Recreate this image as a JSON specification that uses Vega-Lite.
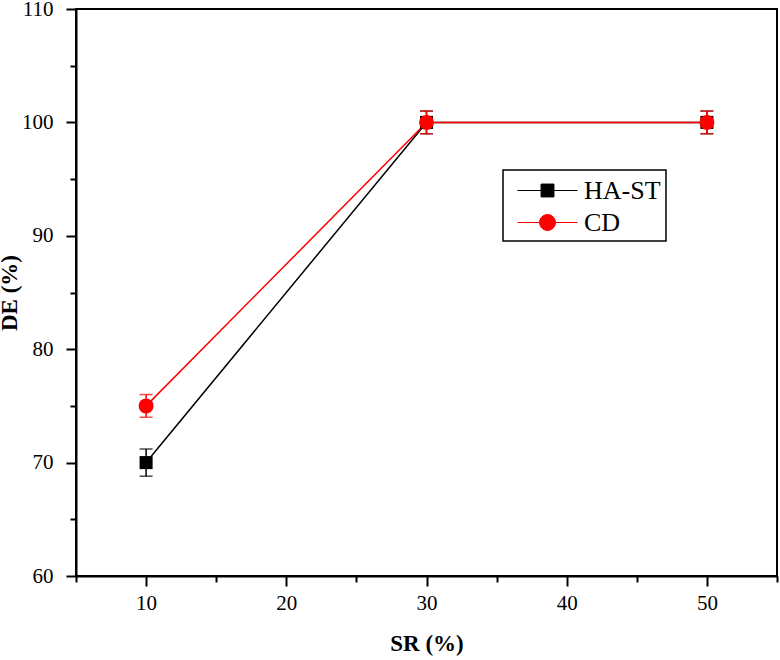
{
  "$schema": "https://vega.github.io/schema/vega-lite/v6.json",
  "autosize": {"type": "none"},
  "width": 701,
  "height": 567,
  "padding": {"left": 76, "top": 9, "right": 3, "bottom": 84},
  "background": "white",
  "config": {
    "view": {"stroke": "black", "strokeWidth": 2},
    "font": "Liberation Serif",
    "axis": {
      "domainColor": "black", "domainWidth": 2, "tickColor": "black", "tickWidth": 2,
      "grid": false, "labelFont": "Liberation Serif", "labelFontSize": 21, "labelColor": "black",
      "titleFont": "Liberation Serif", "titleFontSize": 23, "titleFontWeight": "bold", "titleColor": "black"
    }
  },
  "data": {"values": [
    {"sr": 10, "de": 70, "lo": 68.8, "hi": 71.2, "series": "HA-ST"},
    {"sr": 30, "de": 100, "lo": 99, "hi": 101, "series": "HA-ST"},
    {"sr": 50, "de": 100, "lo": 99, "hi": 101, "series": "HA-ST"},
    {"sr": 10, "de": 75, "lo": 74, "hi": 76, "series": "CD"},
    {"sr": 30, "de": 100, "lo": 99, "hi": 101, "series": "CD"},
    {"sr": 50, "de": 100, "lo": 99, "hi": 101, "series": "CD"}
  ]},
  "encoding": {
    "x": {"field": "sr", "type": "quantitative",
      "scale": {"domain": [5, 55], "nice": false, "zero": false},
      "axis": {"title": "SR (%)", "values": [5, 10, 15, 20, 25, 30, 35, 40, 45, 50, 55],
        "labelExpr": "datum.value % 10 === 0 ? datum.label : ''",
        "tickSize": {"condition": {"test": "datum.value % 10 !== 0", "value": 6}, "value": 10},
        "labelPadding": 6, "titlePadding": 19}},
    "color": {"field": "series", "type": "nominal",
      "scale": {"domain": ["HA-ST", "CD"], "range": ["black", "#ff0000"]},
      "legend": {"title": null, "orient": "none", "legendX": 427, "legendY": 161,
        "strokeColor": "black", "padding": 5, "fillColor": "white",
        "symbolSize": 900, "symbolStrokeWidth": 1, "labelFontSize": 26, "labelFont": "Liberation Serif",
        "labelColor": "black", "labelOffset": 45, "rowPadding": 3, "labelLimit": 300,
        "encode": {
          "legend": {"update": {"strokeWidth": {"value": 1.5}}},
          "symbols": {"update": {
          "shape": {"signal": "datum.value === 'CD' ? 'M-0.4,0H1.07A0.53,0.53 0 1,1 2.13,0H3.6M2.13,0A0.53,0.53 0 1,1 1.07,0' : 'M-0.4,0H1.17V-0.43H2.03V0.43H1.17V0M2.03,0H3.6'"},
          "fill": {"signal": "datum.value === 'CD' ? '#ff0000' : 'black'"},
          "stroke": {"signal": "datum.value === 'CD' ? '#ff0000' : 'black'"},
          "strokeWidth": {"value": 1},
          "opacity": {"value": 1}
        }}}}}
  },
  "layer": [
    {"mark": {"type": "line", "strokeWidth": 1.5},
     "encoding": {"y": {"field": "de", "type": "quantitative",
       "scale": {"domain": [60, 110], "nice": false, "zero": false},
       "axis": {"title": "DE (%)", "values": [60, 65, 70, 75, 80, 85, 90, 95, 100, 105, 110],
         "labelExpr": "datum.value % 10 === 0 ? datum.label : ''",
         "tickSize": {"condition": {"test": "datum.value % 10 !== 0", "value": 6}, "value": 10},
         "labelPadding": 13, "titlePadding": 0}}}},
    {"mark": {"type": "errorbar", "ticks": {"size": 13, "thickness": 1.5}, "rule": {"strokeWidth": 1.5}},
     "encoding": {"y": {"field": "lo", "type": "quantitative", "title": "DE (%)"}, "y2": {"field": "hi"}}},
    {"transform": [{"filter": "datum.series === 'HA-ST'"}],
     "mark": {"type": "point", "filled": true, "opacity": 1, "shape": "square", "size": 170},
     "encoding": {"y": {"field": "de", "type": "quantitative", "title": "DE (%)"}}},
    {"transform": [{"filter": "datum.series === 'CD'"}],
     "mark": {"type": "point", "filled": true, "opacity": 1, "shape": "circle", "size": 225},
     "encoding": {"y": {"field": "de", "type": "quantitative", "title": "DE (%)"}}}
  ]
}
